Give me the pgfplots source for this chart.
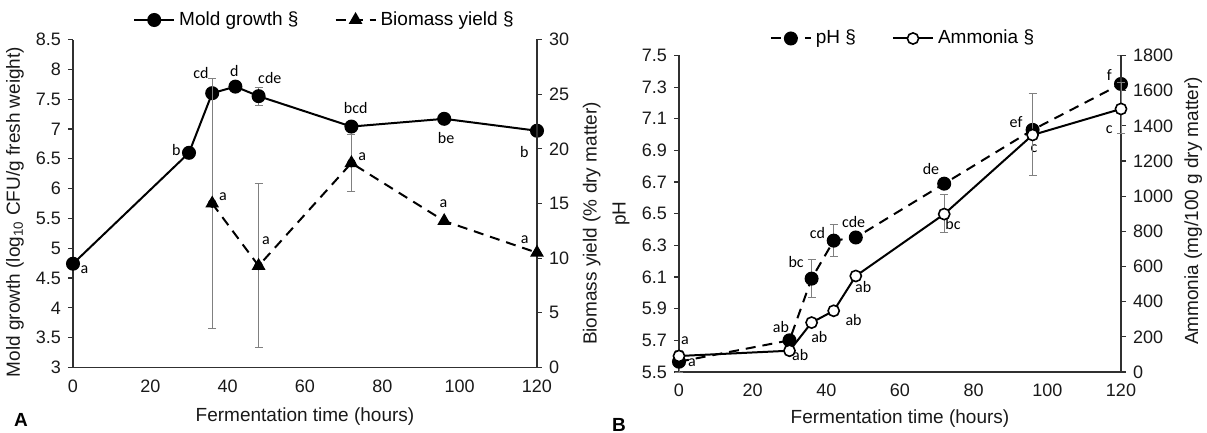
\documentclass[border=0pt]{standalone}
\usepackage{pgfplots}
\pgfplotsset{compat=1.18}
\usepackage{fontspec}
\setmainfont{Liberation Sans}
\newfontfamily\lettfont{Carlito}
\newcommand{\lf}{\lettfont\fontsize{8}{9}\selectfont}
\newcommand{\mf}{\fontsize{9.5}{11}\selectfont}
\newcommand{\tf}{\fontsize{9}{10}\selectfont}
\definecolor{axgray}{HTML}{303030}
\definecolor{errgray}{HTML}{808080}
\pgfplotsset{
  base/.style={
    scale only axis, clip=false,
    xmin=0, xmax=120,
    /pgf/number format/assume math mode=true,
    /pgf/number format/1000 sep={},
    scaled y ticks=false,
    axis line style={draw=axgray, line width=0.7pt},
    ytick style={draw=axgray, line width=0.6pt},
    xtick style={draw=none},
    tick align=outside,
    major tick length=2.5pt,
    tick label style={text=black!90, font=\tf},
    label style={text=black!90, font=\mf},
    legend columns=2,
    legend cell align=left,
    legend image code/.code={\draw[mark repeat=2,mark phase=2,##1] plot coordinates {(0pt,0pt)(10pt,0pt)(20pt,0pt)};},
    legend style={draw=none, fill=none, inner sep=0pt, font=\mf,
      /tikz/every even column/.append style={column sep=16pt}},
  },
  errs/.style={only marks, mark=none, forget plot,
    error bars/.cd, y dir=both, y explicit,
    error bar style={draw=errgray, line width=0.5pt, solid},
    error mark options={rotate=90, mark size=2pt, draw=errgray, line width=0.5pt}},
}
\begin{document}
\begin{tikzpicture}
\useasboundingbox (0,0) rectangle (603.5pt,216.5pt);
% ---------------- Panel A ----------------
\begin{axis}[base, at={(36.5pt,32.75pt)}, anchor=south west, width=232pt, height=164pt,
  axis y line*=left, axis x line*=bottom,
  ymin=3, ymax=8.5, ytick={3,3.5,4,4.5,5,5.5,6,6.5,7,7.5,8,8.5},
  xtick={0,20,40,60,80,100,120},
  xlabel={Fermentation time (hours)},
  xlabel style={at={(axis description cs:0.5,-0.149)}, anchor=center},
  ylabel={Mold growth (log\textsubscript{10} CFU/g fresh weight)},
  ylabel style={at={(axis description cs:-0.125,0.474)}, anchor=center}]
\addplot[errs] coordinates {(48,7.55) +- (0,0.15)};
\addplot[black, line width=1pt, mark=*, mark size=3pt] coordinates {
(0,4.74)(30,6.6)(36,7.6)(42,7.71)(48,7.55)(72,7.04)(96,7.17)(120,6.97)};
\node[font=\lf] at (axis cs:2.96,4.638) {a};
\node[font=\lf] at (axis cs:26.7,6.644) {b};
\node[font=\lf] at (axis cs:33.1,7.93) {cd};
\node[font=\lf] at (axis cs:41.7,7.98) {d};
\node[font=\lf] at (axis cs:50.9,7.85) {cde};
\node[font=\lf] at (axis cs:73.1,7.355) {bcd};
\node[font=\lf] at (axis cs:96.5,6.845) {be};
\node[font=\lf] at (axis cs:116.7,6.61) {b};
\node[font=\lf] at (axis cs:38.8,5.864) {a};
\node[font=\lf] at (axis cs:49.9,5.128) {a};
\node[font=\lf] at (axis cs:74.8,6.53) {a};
\node[font=\lf] at (axis cs:95.8,5.753) {a};
\node[font=\lf] at (axis cs:116.8,5.151) {a};
\end{axis}
\begin{axis}[base, at={(36.5pt,32.75pt)}, anchor=south west, width=232pt, height=164pt,
  axis y line*=right, axis x line=none,
  ymin=0, ymax=30, ytick={0,5,10,15,20,25,30},
  ylabel={Biomass yield (\% dry matter)},
  ylabel style={at={(axis description cs:1.118,0.439)}, anchor=center},
  legend style={at={(axis description cs:0.544,1)}, anchor=center, yshift=9.75pt}]
\addlegendimage{black, line width=1pt, mark=*, mark size=3pt}
\addlegendentry{Mold growth §}
\addplot[errs] coordinates {(36,15.0) +- (0,11.4) (48,9.3) +- (0,7.5) (72,18.7) +- (0,2.63)};
\addplot[black, line width=1pt, dash pattern=on 5pt off 3.5pt, mark=triangle*, mark size=3pt, mark options={solid}] coordinates {
(36,15.0)(48,9.3)(72,18.7)(96,13.4)(120,10.5)};
\addlegendentry{Biomass yield §}
\end{axis}
\node[font=\bfseries\mf] at (10.5pt,6.5pt) {A};
% ---------------- Panel B ----------------
\begin{axis}[base, at={(339.5pt,30.5pt)}, anchor=south west, width=221pt, height=158.25pt,
  axis y line*=left, axis x line*=bottom,
  ymin=5.5, ymax=7.5, ytick={5.5,5.7,5.9,6.1,6.3,6.5,6.7,6.9,7.1,7.3,7.5},
  yticklabel style={/pgf/number format/.cd, fixed, fixed zerofill, precision=1},
  xtick={0,20,40,60,80,100,120},
  xlabel={Fermentation time (hours)},
  xlabel style={at={(axis description cs:0.5,-0.147)}, anchor=center},
  ylabel={pH},
  ylabel style={at={(axis description cs:-0.131,0.5)}, anchor=center}]
\addplot[errs] coordinates {(0,5.565) +- (0,0.07) (36,6.09) +- (0,0.12) (42,6.33) +- (0,0.10) (120,7.32) +- (0,0.18)};
\addplot[black, line width=1pt, dash pattern=on 5pt off 3.5pt, mark=*, mark size=3pt, mark options={solid}] coordinates {
(0,5.565)(30,5.70)(36,6.09)(42,6.33)(48,6.35)(72,6.69)(96,7.03)(120,7.32)};
\node[font=\lf] at (axis cs:1.6,5.698) {a};
\node[font=\lf] at (axis cs:3.5,5.56) {a};
\node[font=\lf] at (axis cs:27.7,5.786) {ab};
\node[font=\lf] at (axis cs:32.9,5.607) {ab};
\node[font=\lf] at (axis cs:38.1,5.723) {ab};
\node[font=\lf] at (axis cs:47.4,5.829) {ab};
\node[font=\lf] at (axis cs:50,6.035) {ab};
\node[font=\lf] at (axis cs:31.8,6.197) {bc};
\node[font=\lf] at (axis cs:37.6,6.376) {cd};
\node[font=\lf] at (axis cs:47.4,6.45) {cde};
\node[font=\lf] at (axis cs:74.4,6.435) {bc};
\node[font=\lf] at (axis cs:68.4,6.781) {de};
\node[font=\lf] at (axis cs:91.5,7.082) {ef};
\node[font=\lf] at (axis cs:96.4,6.914) {c};
\node[font=\lf] at (axis cs:116.8,7.377) {f};
\node[font=\lf] at (axis cs:116.8,7.034) {c};
\end{axis}
\begin{axis}[base, at={(339.5pt,30.5pt)}, anchor=south west, width=221pt, height=158.25pt,
  axis y line*=right, axis x line=none,
  ymin=0, ymax=1800, ytick={0,200,400,600,800,1000,1200,1400,1600,1800},
  ylabel={Ammonia (mg/100 g dry matter)},
  ylabel style={at={(axis description cs:1.1636,0.509)}, anchor=center},
  legend style={at={(axis description cs:0.509,1)}, anchor=center, yshift=8.5pt}]
\addlegendimage{black, line width=1pt, dash pattern=on 5pt off 3.5pt, mark=*, mark size=3pt, mark options={solid}}
\addlegendentry{pH §}
\addplot[errs] coordinates {(72,900) +- (0,108) (96,1350) +- (0,235) (120,1500) +- (0,145)};
\addplot[black, line width=1pt, mark=*, mark size=2.8pt, mark options={fill=white, draw=black, line width=0.8pt}] coordinates {
(0,91)(30,121)(36,281)(42,348)(48,546)(72,898)(96,1348)(120,1496)};
\addlegendentry{Ammonia §}
\end{axis}
\node[font=\bfseries\mf] at (309.5pt,4pt) {B};
\end{tikzpicture}
\end{document}
